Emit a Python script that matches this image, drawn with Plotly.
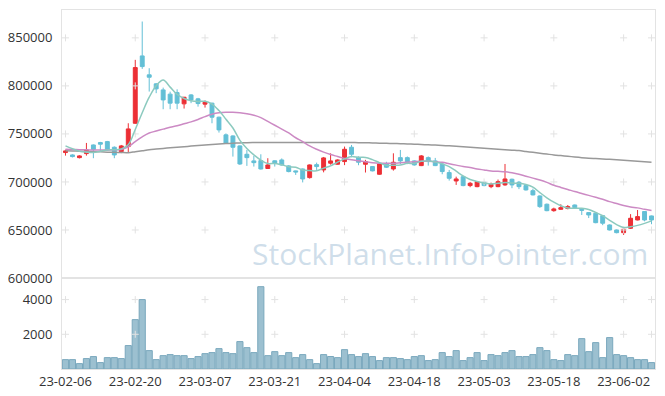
import plotly.graph_objects as go
from plotly.subplots import make_subplots

dates = [
    "2023-02-06","2023-02-07","2023-02-08","2023-02-09","2023-02-10",
    "2023-02-13","2023-02-14","2023-02-15","2023-02-16","2023-02-17",
    "2023-02-20","2023-02-21","2023-02-22","2023-02-23","2023-02-24",
    "2023-02-27","2023-02-28","2023-03-02","2023-03-03","2023-03-06",
    "2023-03-07","2023-03-08","2023-03-09","2023-03-10","2023-03-13",
    "2023-03-14","2023-03-15","2023-03-16","2023-03-17","2023-03-20",
    "2023-03-21","2023-03-22","2023-03-23","2023-03-24","2023-03-27",
    "2023-03-28","2023-03-29","2023-03-30","2023-03-31","2023-04-03",
    "2023-04-04","2023-04-05","2023-04-06","2023-04-07","2023-04-10",
    "2023-04-11","2023-04-12","2023-04-13","2023-04-14","2023-04-17",
    "2023-04-18","2023-04-19","2023-04-20","2023-04-21","2023-04-24",
    "2023-04-25","2023-04-26","2023-04-27","2023-04-28","2023-05-02",
    "2023-05-03","2023-05-04","2023-05-08","2023-05-09","2023-05-10",
    "2023-05-11","2023-05-12","2023-05-15","2023-05-16","2023-05-17",
    "2023-05-18","2023-05-19","2023-05-22","2023-05-23","2023-05-24",
    "2023-05-25","2023-05-26","2023-05-30","2023-05-31","2023-06-01",
    "2023-06-02","2023-06-05","2023-06-07","2023-06-08","2023-06-09",
]

open_ = [730600,728100,725300,729500,738500,741000,742000,736100,731600,736800,
         761100,831200,811500,802100,795800,791400,793000,781300,790600,786500,
         781000,782000,767400,749000,747900,737500,728800,721900,722200,714000,
         722000,722900,716700,711500,713500,704500,718000,712500,719500,718400,
         721200,736100,725700,718400,716000,708000,718700,713500,725300,725300,
         721900,717000,725300,721900,718700,709700,701000,705500,696200,695100,
         699700,695100,695100,696900,702800,699700,696200,690900,685400,676800,
         670100,671500,672300,676000,671500,668100,667400,664900,655200,650000,
         647200,651800,660400,669200,664600]
high = [733600,728800,727800,740600,739000,741700,742700,737000,738500,761100,
        827100,867000,818400,802800,798200,794000,796400,788500,791500,787500,
        784800,782500,768000,750500,748500,738000,733300,727100,728800,724700,
        722500,724500,717500,711800,714000,718200,720100,726000,729800,723500,
        736800,738500,726500,723000,716500,719500,721000,729800,733300,726500,
        722500,728000,726500,725000,719500,712500,705500,706000,700000,700800,
        700500,699300,702500,718700,703500,701000,697000,693000,686000,677500,
        673200,676800,676000,676500,672000,668500,668000,665500,655800,650500,
        652500,666500,670800,669500,665000]
low = [727400,725500,724500,727400,724700,731600,732300,724700,730000,730500,
       760500,817700,794100,792400,775700,775700,775700,776400,782000,778400,
       777400,761100,751400,739500,726400,717700,716700,716000,713000,713500,
       716000,717000,710000,707300,699500,703500,712500,710000,718000,718000,
       717500,725700,717400,709800,711000,707500,714500,711800,718500,718500,
       717000,716500,717000,716500,708000,701400,696900,695500,694500,694500,
       695500,693500,694500,696000,693500,692500,691000,686000,673000,669500,
       669000,671000,671500,672500,665600,662400,657000,655000,649500,646500,
       644800,651000,660000,659000,656000]
close = [732300,726400,727100,733300,733700,739300,733300,728100,737500,755200,
         819100,820100,809000,796900,785400,782000,782000,788200,785400,781600,
         783000,767400,754200,740300,736100,718700,725300,720100,713500,717700,
         719800,717700,710800,710400,703100,717700,716000,725000,721900,722900,
         734000,728800,720500,721200,711500,718700,715300,720500,721900,720500,
         717700,727100,721200,717000,710800,703800,703100,696200,698600,700300,
         696200,697600,700300,703100,696900,695100,691700,686500,674300,670100,
         671900,673200,674300,673200,670500,665600,657600,657000,650000,647200,
         650700,662200,663900,660400,660400]

volume = [540,540,310,600,715,370,655,655,600,1350,
          2845,4000,1060,540,770,830,770,770,600,715,
          885,945,1175,945,885,1580,1230,945,4745,770,
          1000,770,945,655,830,540,310,830,720,655,
          1115,830,715,885,715,485,655,655,600,540,
          715,770,485,540,945,715,1060,485,655,945,
          485,830,770,945,1060,715,715,830,1230,1060,
          540,485,830,770,1750,1000,1520,655,1810,830,
          770,655,540,540,370]

ma5 = [737500,734500,732000,731000,730600,732000,733300,733500,734400,738700,
       754600,772000,788200,800100,806100,798700,791100,786900,784600,783800,
       784000,781100,774300,765300,756200,743300,734900,728100,722700,719100,
       719300,717800,715900,715300,712400,711900,711600,714400,716700,720700,
       724000,726500,725600,725500,723200,720100,717400,717400,717600,719400,
       719200,721500,721700,720700,718800,716000,711200,706200,702500,700400,
       698900,697800,698600,699500,698800,698600,697400,694700,688900,683500,
       678900,675200,672800,672500,672600,671400,668200,664800,660100,655500,
       652500,653400,654800,656900,659500]
ma20 = [734000,733800,733600,733400,733300,733300,733300,733400,733800,736500,
        742000,747000,751000,753000,755000,757000,758500,760500,762500,765000,
        768000,770500,772000,772500,772500,772000,771000,769500,767000,763000,
        759000,755000,751000,746000,742000,737500,734000,731000,728500,726500,
        724500,723000,722000,721000,720000,719500,719500,719500,720000,720500,
        721000,721500,721500,721000,720500,719000,717500,716000,715000,713500,
        712500,711500,711000,710500,709500,708000,706000,704000,702000,699500,
        696500,694300,692200,690000,688000,686000,684000,682000,679500,677500,
        675500,674000,673000,671500,670300]
ma60 = [732500,732300,732000,731800,731500,731300,731000,730800,730600,730500,
        731500,732500,733500,734200,734900,735500,736100,736700,737300,737900,
        738500,739000,739500,739900,740300,740600,740900,741000,741000,741000,
        741000,741000,741000,741000,741000,741000,741000,741000,741000,741000,
        741000,741000,740900,740800,740600,740400,740200,740000,739800,739600,
        739300,739000,738700,738400,738000,737600,737200,736700,736200,735600,
        735100,734600,734100,733600,733100,732600,731700,730800,729900,729000,
        728100,727400,726700,726000,725300,724700,724300,723900,723500,723000,
        722500,722000,721500,721000,720500]

price_ticks = [600000, 650000, 700000, 750000, 800000, 850000]
volume_ticks = [2000, 4000]
tick_dates = dates[::10]
tick_labels = [d[2:] for d in tick_dates]
watermark = "StockPlanet.InfoPointer.com"

UP = "#ec2f35"
DOWN = "#63bfd6"
FONT = "Open Sans"
GRIDMARK = "#e2e2e2"

fig = make_subplots(rows=2, cols=1, shared_xaxes=True, vertical_spacing=0,
                    row_heights=[0.7465, 0.2535])

# grid "+" markers at tick intersections (drawn first, underneath)
grid_x = tick_dates + [dates[-1]]
gx, gy = [], []
for xv in grid_x:
    for yv in price_ticks[1:]:
        gx.append(xv); gy.append(yv)
fig.add_trace(go.Scatter(x=gx, y=gy, mode="markers", hoverinfo="skip",
                         marker=dict(symbol="cross-thin", size=5,
                                     line=dict(color=GRIDMARK, width=1))),
              row=1, col=1)
vx, vy = [], []
for xv in grid_x:
    for yv in volume_ticks:
        vx.append(xv); vy.append(yv)
fig.add_trace(go.Scatter(x=vx, y=vy, mode="markers", hoverinfo="skip",
                         marker=dict(symbol="cross-thin", size=5,
                                     line=dict(color=GRIDMARK, width=1))),
              row=2, col=1)

fig.add_trace(go.Candlestick(
    x=dates, open=open_, high=high, low=low, close=close,
    increasing=dict(line=dict(color=UP, width=1), fillcolor=UP),
    decreasing=dict(line=dict(color=DOWN, width=1), fillcolor=DOWN),
    whiskerwidth=0,
), row=1, col=1)

fig.add_trace(go.Scatter(x=dates, y=ma60, mode="lines",
                         line=dict(color="#999999", width=1.5, shape="spline")), row=1, col=1)
fig.add_trace(go.Scatter(x=dates, y=ma20, mode="lines",
                         line=dict(color="#cc8ac4", width=1.5, shape="spline")), row=1, col=1)
fig.add_trace(go.Scatter(x=dates, y=ma5, mode="lines",
                         line=dict(color="#8ccabf", width=1.5, shape="spline")), row=1, col=1)

fig.add_trace(go.Bar(x=dates, y=volume,
                     marker=dict(color="#9cc0d0", line=dict(color="#7aa8bd", width=1))),
              row=2, col=1)

# the page body adds an 8px offset, so the figure is sized to fill the rest
fig.update_layout(
    width=657, height=388,
    margin=dict(l=54, r=10, t=2, b=27),
    paper_bgcolor="white", plot_bgcolor="white",
    showlegend=False, bargap=0.12, boxgap=0.2,
    font=dict(family=FONT, size=13, color="#333333"),
    annotations=[dict(text=watermark, xref="paper", yref="paper",
                      x=0.654, y=0.322, xanchor="center", yanchor="middle",
                      showarrow=False,
                      font=dict(family=FONT, size=30, color="rgba(175,200,220,0.6)"))],
)

axis_line = "#e3e3e3"
fig.update_xaxes(type="category", categoryorder="array", categoryarray=dates,
                 range=[-0.5, len(dates) - 0.5],
                 rangeslider=dict(visible=False), showgrid=False, zeroline=False,
                 showline=True, linecolor=axis_line, mirror=True,
                 tickvals=tick_dates, ticktext=tick_labels, ticks="", tickangle=0,
                 automargin=False)
fig.update_xaxes(showticklabels=False, row=1, col=1)
fig.update_xaxes(showticklabels=True, row=2, col=1)
fig.update_yaxes(range=[600000, 879000], tickvals=price_ticks, tickformat="d",
                 showgrid=False, zeroline=False, showline=True, linecolor=axis_line,
                 mirror=True, ticks="outside", ticklen=6, tickcolor="rgba(0,0,0,0)",
                 automargin=False, row=1, col=1)
fig.update_yaxes(range=[0, 5245], tickvals=volume_ticks, tickformat="d",
                 showgrid=False, zeroline=False, showline=True, linecolor=axis_line,
                 mirror=True, ticks="outside", ticklen=6, tickcolor="rgba(0,0,0,0)",
                 automargin=False, row=2, col=1)

fig.write_html("out.html")
